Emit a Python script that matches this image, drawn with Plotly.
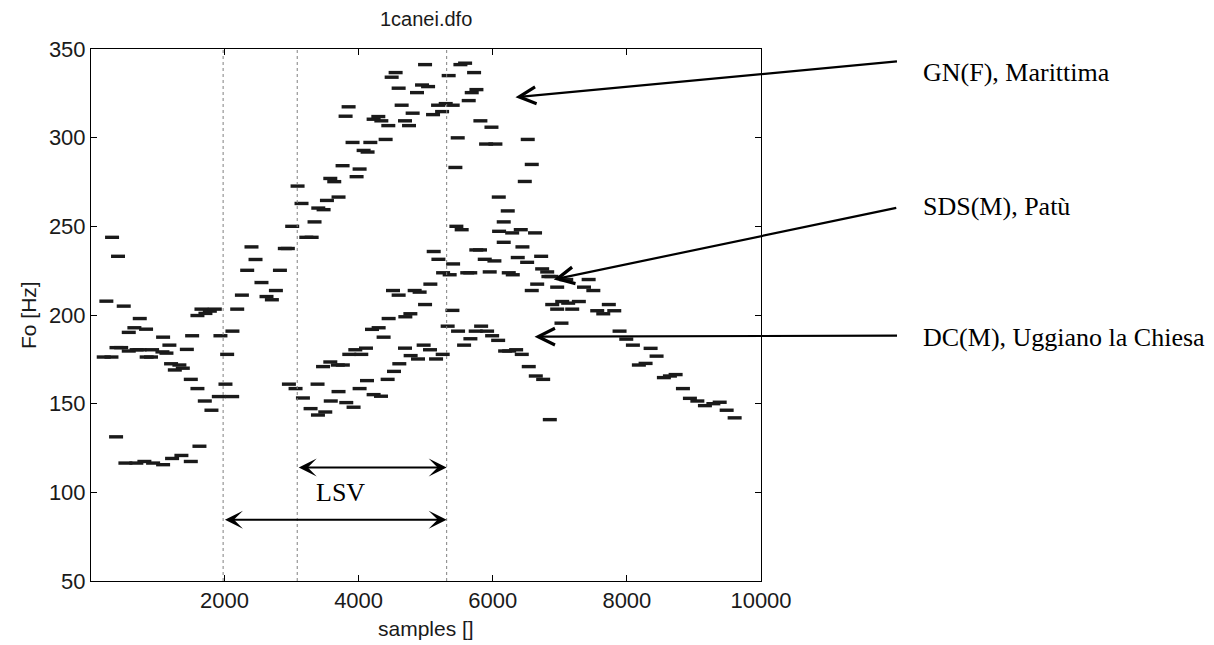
import plotly.graph_objects as go

# ---------------- data (samples, Hz) ----------------
gn_x = [239, 324, 413, 498, 1597, 1657, 1716, 1782, 1856, 2190, 2260, 2339, 2403, 2463,
        2552, 2627, 2707, 2767, 2827, 2900, 2945, 3010, 3090, 3149, 3220, 3300, 3343, 3399,
        3478, 3528, 3578, 3637, 3701, 3761, 3806, 3851, 3910, 3970, 4015, 4075, 4134, 4175,
        4224, 4294, 4339, 4403, 4443, 4493, 4552, 4597, 4642, 4692, 4752, 4806, 4871, 4946,
        4991, 5036, 5110, 5185, 5245, 5299, 5343, 5403, 5443, 5478, 5518, 5588, 5642, 5687,
        5722, 5757, 5816, 5901, 5981, 6040, 6090, 6164, 6224, 6478, 6522, 6582]
gn_y = [207.8, 243.8, 233.1, 205.0, 199.7, 203.3, 200.9, 202.2, 203.3, 203.3, 211.2, 225.2,
        238.4, 231.3, 218.3, 210.4, 208.6, 213.8, 225.2, 237.5, 237.5, 250.0, 272.7, 262.9,
        243.8, 243.8, 252.5, 260.3, 259.4, 264.6, 277.0, 275.2, 266.5, 284.2, 312.1, 317.4,
        297.3, 278.0, 282.3, 292.8, 291.9, 297.3, 310.4, 311.9, 309.5, 299.0, 306.8, 334.1,
        336.7, 327.9, 318.3, 309.5, 306.8, 313.8, 325.4, 329.7, 341.2, 328.8, 313.0, 318.3,
        314.7, 319.2, 335.0, 318.3, 283.2, 299.9, 341.2, 342.0, 320.9, 325.4, 336.7, 327.1,
        309.5, 296.4, 305.9, 296.4, 266.5, 252.5, 258.7, 275.3, 299.0, 284.9]

sds_x = [200, 315, 390, 460, 573, 573, 657, 690, 735, 737, 831, 840, 905, 921, 1075, 1085,
         1135, 1179, 1204, 1260, 1328, 1379, 1439, 1498, 1518, 1597, 1707, 1806, 1916, 1940,
         2015, 2040, 2115, 2119,
         2961, 3060, 3170, 3284, 3388, 3394, 3470, 3503, 3578, 3585, 3690, 3701, 3765, 3816,
         3861, 3925, 3951, 4015, 4040, 4110, 4125, 4200, 4224, 4299, 4334, 4373, 4433, 4448,
         4513, 4597, 4697, 4772, 4836, 4910, 4991, 5070,
         5120, 5190, 5260, 5358, 5409, 5458, 5537, 5620, 5665, 5755, 5810, 5881, 5955, 6025,
         6095, 6164, 6239, 6290, 6299, 6373, 6418, 6443, 6513, 6582, 6631, 6663, 6722, 6737,
         6812, 6830, 6875, 6887, 6961, 6961, 7025, 7036, 7096, 7125, 7185, 7284, 7361, 7430,
         7500, 7558, 7648, 7731, 7812, 7891, 7991, 8090, 8179, 8279, 8354, 8443, 8552, 8642,
         8727, 8836, 8940, 9051, 9164, 9290, 9384, 9488, 9607]
sds_y = [176.3, 176.3, 181.6, 181.6, 190.2, 179.7, 192.8, 180.4, 180.4, 198.0, 192.0, 176.3,
         176.3, 180.4, 179.2, 187.5, 178.5, 183.0, 172.5, 169.0, 171.8, 170.0, 180.6, 163.7,
         188.3, 158.5, 151.5, 146.3, 154.0, 188.3, 161.0, 177.8, 154.0, 190.9,
         161.0, 158.5, 153.2, 147.2, 161.0, 143.6, 170.9, 145.3, 173.5, 151.5, 171.8, 156.8,
         171.8, 150.6, 177.8, 148.0, 180.4, 158.5, 177.8, 181.3, 163.0, 191.9, 155.1, 192.8,
         154.2, 187.5, 163.7, 198.0, 213.8, 211.2, 199.0, 200.7, 213.8, 212.9, 205.9, 217.4,
         235.8, 231.4, 223.8, 222.7, 228.8, 250.0, 248.1, 223.8, 223.8, 236.7, 236.7, 231.4,
         224.3, 230.5, 247.2, 241.0, 223.8, 246.3, 222.7, 232.4, 248.1, 238.4, 229.7, 213.8,
         246.3, 217.4, 233.1, 226.0, 224.3, 221.7, 221.7, 205.9, 215.7, 203.3, 195.4, 207.6,
         220.0, 206.7, 203.3, 207.6, 215.7, 220.0, 213.8, 202.4, 200.7, 205.9, 202.4, 190.9,
         186.4, 183.0, 171.8, 172.7, 181.2, 176.8, 164.7, 165.6, 166.4, 158.5, 153.0, 151.5,
         148.9, 150.0, 150.8, 146.3, 142.0]

dc_x = [384, 523, 686, 806, 936, 1085, 1219, 1358, 1498, 1627,
        4528, 4607, 4692, 4776, 4886, 4970, 5065, 5155, 5254, 5328, 5399, 5483, 5573, 5667,
        5746, 5827, 5916, 5991, 6081, 6185, 6245, 6349, 6433, 6537, 6642, 6752, 6851]
dc_y = [131.3, 116.5, 116.5, 117.4, 116.5, 115.6, 119.1, 120.8, 117.4, 126.0,
        168.2, 172.5, 181.3, 177.1, 175.2, 183.0, 180.4, 175.2, 177.8, 193.7, 202.6, 190.9,
        183.0, 186.6, 190.9, 193.7, 190.9, 188.3, 185.7, 179.7, 179.7, 180.4, 177.8, 170.9,
        165.6, 163.7, 141.0]

x_ticks = [2000, 4000, 6000, 8000, 10000]
x_tick_labels = ["2000", "4000", "6000", "8000", "10000"]
y_ticks = [50, 100, 150, 200, 250, 300, 350]

# segment boundaries (dotted verticals) and LSV spans
seg_x = [1980, 3085, 5313]
lsv_spans = [(3085, 5313, 114.0), (1985, 5313, 84.6)]

# pointer annotations: label, tip (samples, Hz), tail offset (px), label y (page px)
pointers = [
    ("GN(F), Marittima", 6339, 322.8, 383, -36, 72),
    ("SDS(M), Patù", 6910, 220.0, 344, -72, 206),
    ("DC(M), Uggiano la Chiesa", 6623, 187.8, 364, -1, 337),
]

# ---------------- figure ----------------
OFF = 8  # page body margin
W, H = 1214 - OFF, 645 - OFF
L, T = 91 - OFF, 49 - OFF
R = W - (761 - OFF)
B = H - (581 - OFF)
PH = H - T - B
PW = W - L - R

def py(ypix):
    return (H - B - (ypix - OFF)) / PH

def px(xpix):
    return ((xpix - OFF) - L) / PW

fig = go.Figure()
dash_marker = dict(symbol="line-ew", size=10, color="#1a1a1a",
                   line=dict(width=3.4, color="#1a1a1a"))
for name, xs, ys in [("GN(F)", gn_x, gn_y), ("SDS(M)", sds_x, sds_y), ("DC(M)", dc_x, dc_y)]:
    fig.add_trace(go.Scatter(x=xs, y=ys, mode="markers", name=name,
                             marker=dash_marker, showlegend=False, hoverinfo="x+y"))

shapes = []
for sx in seg_x:
    shapes.append(dict(type="line", xref="x", yref="paper", x0=sx, x1=sx, y0=0, y1=1,
                       line=dict(color="#808080", width=1, dash="dot")))

ann = []
for x0, x1, yv in lsv_spans:
    ann.append(dict(x=x1, y=yv, ax=x0, ay=yv, xref="x", yref="y", axref="x", ayref="y",
                    text="", showarrow=True, arrowhead=3, startarrowhead=3,
                    arrowside="end+start", arrowwidth=2, arrowsize=1.5,
                    startarrowsize=1.5, arrowcolor="black", standoff=0, startstandoff=0))
ann.append(dict(x=3730, y=100, xref="x", yref="y", text="LSV", showarrow=False,
                font=dict(family="Liberation Serif", size=26, color="black")))

for label, tx, ty, dx, dy, ly in pointers:
    ann.append(dict(x=tx, y=ty, xref="x", yref="y", ax=dx, ay=dy, text="",
                    showarrow=True, arrowhead=5, arrowwidth=2.2, arrowsize=1.5,
                    arrowcolor="black", standoff=0))
    ann.append(dict(x=px(921), y=py(ly), xref="paper", yref="paper", text=label,
                    showarrow=False, xanchor="left", yanchor="middle",
                    font=dict(family="Liberation Serif", size=26, color="black")))

sans = "Liberation Sans, Arial, sans-serif"
ann.append(dict(x=0.5, y=py(19), xref="paper", yref="paper", text="1canei.dfo",
                showarrow=False, yanchor="middle",
                font=dict(family=sans, size=20, color="#1a1a1a")))
ann.append(dict(x=0.5, y=py(628), xref="paper", yref="paper", text="samples []",
                showarrow=False, yanchor="middle",
                font=dict(family=sans, size=21, color="#1a1a1a")))
ann.append(dict(x=px(28), y=0.5, xref="paper", yref="paper", text="Fo [Hz]",
                showarrow=False, textangle=-90, xanchor="center", yanchor="middle",
                font=dict(family=sans, size=21, color="#1a1a1a")))

fig.update_layout(
    width=W, height=H, margin=dict(l=L, r=R, t=T, b=B, autoexpand=False),
    paper_bgcolor="white", plot_bgcolor="white",
    shapes=shapes, annotations=ann, showlegend=False,
    xaxis=dict(range=[10, 10000], tickvals=x_ticks, ticktext=x_tick_labels,
               ticks="inside", ticklen=6, tickcolor="black", showline=True,
               linecolor="black", linewidth=1, mirror="ticks", showgrid=False,
               zeroline=False, automargin=False,
               tickfont=dict(family=sans, size=22, color="#1a1a1a")),
    yaxis=dict(range=[50, 350], tickvals=y_ticks,
               ticks="inside", ticklen=6, tickcolor="black", showline=True,
               linecolor="black", linewidth=1, mirror="ticks", showgrid=False,
               zeroline=False, automargin=False,
               tickfont=dict(family=sans, size=22, color="#1a1a1a")),
)

fig.write_html("out.html")
